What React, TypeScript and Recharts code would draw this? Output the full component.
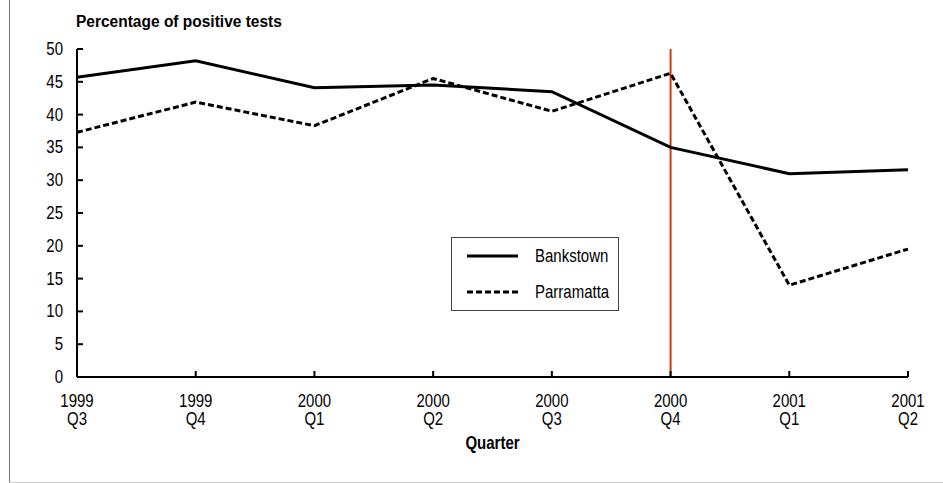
import React from "react";
import {
  LineChart,
  Line,
  XAxis,
  YAxis,
  Legend,
  ReferenceLine,
  Label,
} from "recharts";

const quarters = [
  "1999 Q3",
  "1999 Q4",
  "2000 Q1",
  "2000 Q2",
  "2000 Q3",
  "2000 Q4",
  "2001 Q1",
  "2001 Q2",
];
const bankstown = [45.7, 48.2, 44.1, 44.5, 43.5, 35.0, 31.0, 31.6];
const parramatta = [37.3, 41.9, 38.3, 45.5, 40.5, 46.3, 14.0, 19.5];
const yTicks = [0, 5, 10, 15, 20, 25, 30, 35, 40, 45, 50];

const data = quarters.map((q, i) => ({
  name: q,
  Bankstown: bankstown[i],
  Parramatta: parramatta[i],
}));

const FONT = "'Liberation Sans', Arial, sans-serif";

// stretched text, the original labels are a bit taller than plain Arial
const TallText = ({ x, y, anchor, size = 15, weight, children }: any) => (
  <text
    transform={`translate(${x},${y}) scale(1,1.18)`}
    x={0}
    y={0}
    textAnchor={anchor}
    fontSize={size}
    fontWeight={weight}
    fill="#000"
    fontFamily={FONT}
  >
    {children}
  </text>
);

const XTick = (props: any) => {
  const { x, y, payload, index } = props;
  const [year, q] = String(payload.value).split(" ");
  return (
    <g>
      {index > 0 && (
        <line x1={x} y1={y} x2={x} y2={y - 6} stroke="#000" strokeWidth={2} />
      )}
      <TallText x={x} y={y + 30} anchor="middle">
        {year}
      </TallText>
      <TallText x={x} y={y + 48} anchor="middle">
        {q}
      </TallText>
    </g>
  );
};

const YTick = (props: any) => {
  const { x, y, payload } = props;
  return (
    <g>
      <line x1={x + 14} y1={y} x2={x + 20} y2={y} stroke="#000" strokeWidth={2} />
      <TallText x={x} y={y + 6} anchor="end">
        {payload.value}
      </TallText>
    </g>
  );
};

const LegendBox = () => (
  <div
    style={{
      position: "absolute",
      left: 451,
      top: 237,
      width: 168,
      height: 74,
      border: "1px solid #444",
      boxSizing: "border-box",
      background: "#fff",
    }}
  >
    <svg width={168} height={74} style={{ position: "absolute", left: 0, top: 0 }}>
      <line x1={15} y1={18} x2={66} y2={18} stroke="#000" strokeWidth={3} />
      <line x1={15} y1={54} x2={66} y2={54} stroke="#000" strokeWidth={3} strokeDasharray="6 3" />
      <TallText x={83} y={24} anchor="start">
        Bankstown
      </TallText>
      <TallText x={83} y={60} anchor="start">
        Parramatta
      </TallText>
    </svg>
  </div>
);

export default function App() {
  return (
    <div style={{ position: "absolute", left: 0, top: 0, width: 943, height: 483, background: "#fff" }}>
      <div
        style={{
          position: "absolute",
          left: 9,
          top: 0,
          width: 934,
          height: 482,
          borderLeft: "1px solid #777",
          borderBottom: "1px solid #ccc",
        }}
      />
      <div
        style={{
          position: "absolute",
          left: 76,
          top: 11,
          fontFamily: FONT,
          fontWeight: "bold",
          fontSize: 15.5,
          lineHeight: "18px",
          whiteSpace: "nowrap",
          transform: "scaleY(1.12)",
          transformOrigin: "left top",
        }}
      >
        Percentage of positive tests
      </div>
      <div style={{ position: "absolute", left: 0, top: 0 }}>
        <LineChart
          width={943}
          height={483}
          data={data}
          margin={{ top: 49, right: 35, bottom: 0, left: 0 }}
        >
          <XAxis
            dataKey="name"
            height={106}
            tickSize={0}
            tickMargin={0}
            interval={0}
            tick={<XTick />}
            axisLine={{ stroke: "#000", strokeWidth: 2 }}
          >
            <Label
              content={(p: any) => {
                const vb = p.viewBox || {};
                return (
                  <TallText
                    x={vb.x + vb.width / 2}
                    y={vb.y + 72}
                    anchor="middle"
                    weight="bold"
                  >
                    Quarter
                  </TallText>
                );
              }}
            />
          </XAxis>
          <YAxis
            width={77}
            domain={[0, 50]}
            ticks={yTicks}
            tickSize={0}
            tickMargin={14}
            interval={0}
            tick={<YTick />}
            axisLine={{ stroke: "#000", strokeWidth: 2 }}
          />
          <ReferenceLine x="2000 Q4" stroke="#cc3a0a" strokeWidth={2} />
          <Line
            type="linear"
            dataKey="Bankstown"
            stroke="#000"
            strokeWidth={3}
            dot={false}
            isAnimationActive={false}
          />
          <Line
            type="linear"
            dataKey="Parramatta"
            stroke="#000"
            strokeWidth={3}
            strokeDasharray="6 3"
            dot={false}
            isAnimationActive={false}
          />
          <Legend content={() => null} />
        </LineChart>
      </div>
      <LegendBox />
    </div>
  );
}
